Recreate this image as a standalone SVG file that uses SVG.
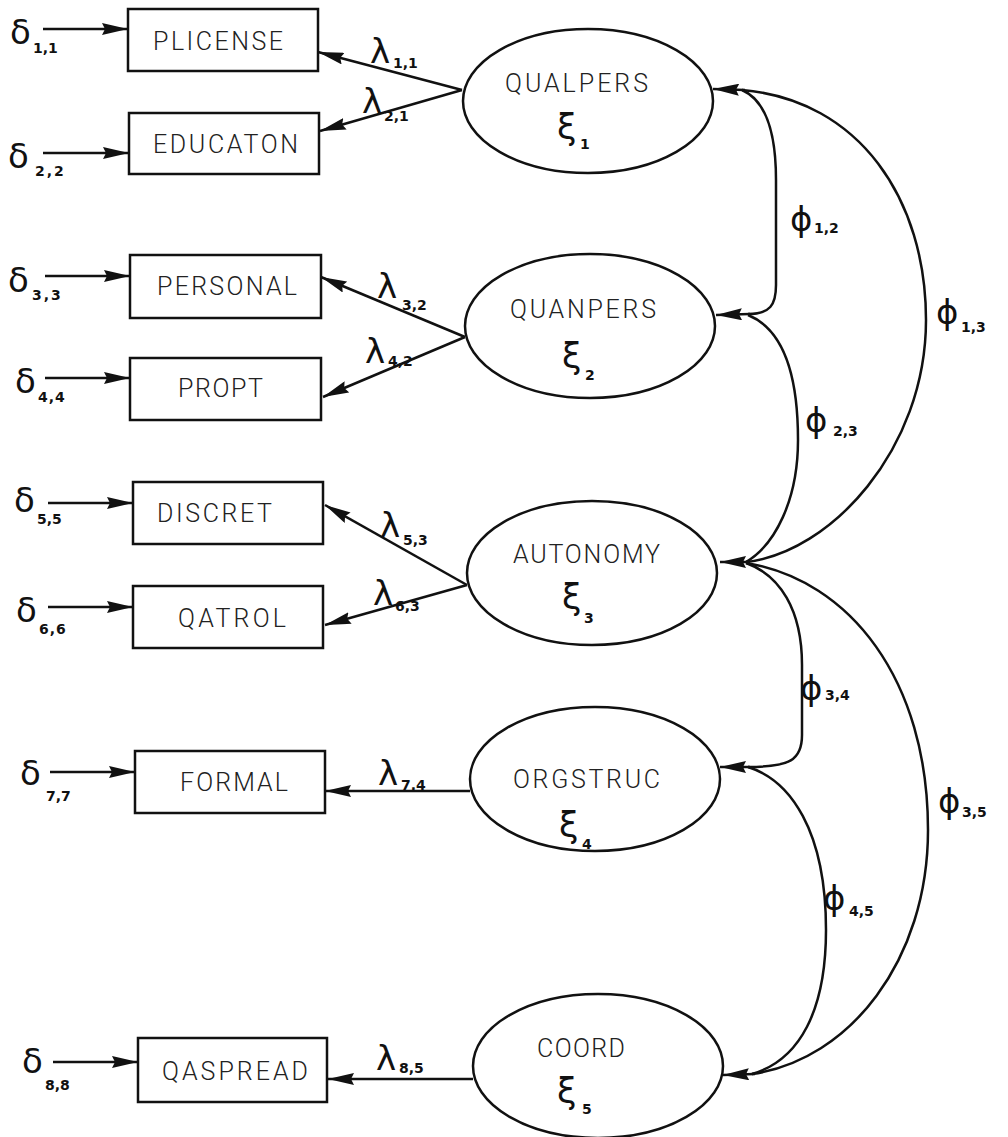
<svg xmlns="http://www.w3.org/2000/svg" width="1008" height="1137" viewBox="0 0 1008 1137">
  <defs>
    <marker id="ah" markerUnits="userSpaceOnUse" viewBox="0 0 26 12" refX="26" refY="6" markerWidth="26" markerHeight="12" orient="auto">
      <path d="M0,0 L26,6 L0,12 L3,6 z" fill="#111"/>
    </marker>
    <style>
      .box{fill:none;stroke:#111;stroke-width:2.5}
      .lat{fill:none;stroke:#111;stroke-width:2.5}
      .edge{fill:none;stroke:#111;stroke-width:2.5}
      .arr{marker-end:url(#ah)}
      .name{font-family:Roboto,"Liberation Sans",sans-serif;font-weight:300;font-size:25px;fill:#222}
      .gk{font-family:"DejaVu Sans",sans-serif;fill:#111}
      .dl{font-size:34px}
      .lm{font-size:34px}
      .ph{font-size:34px}
      .xi{font-size:35px}
      .sub{font-family:"DejaVu Sans",sans-serif;font-size:14px;font-weight:bold;fill:#111}
    </style>
  </defs>
  <rect width="1008" height="1137" fill="#fff"/>

  <!-- observed indicators -->
  <g id="plicense"><rect class="box" x="128" y="9" width="190" height="62"/><text class="name" x="153" y="50" textLength="130" lengthAdjust="spacing">PLICENSE</text></g>
  <g id="educaton"><rect class="box" x="129" y="113" width="190" height="61"/><text class="name" x="153" y="153" textLength="145" lengthAdjust="spacing">EDUCATON</text></g>
  <g id="personal"><rect class="box" x="130" y="255" width="191" height="63"/><text class="name" x="157" y="295" textLength="140" lengthAdjust="spacing">PERSONAL</text></g>
  <g id="propt"><rect class="box" x="130" y="358" width="191" height="62"/><text class="name" x="178" y="397" textLength="85" lengthAdjust="spacing">PROPT</text></g>
  <g id="discret"><rect class="box" x="133" y="482" width="190" height="62"/><text class="name" x="157" y="522" textLength="115" lengthAdjust="spacing">DISCRET</text></g>
  <g id="qatrol"><rect class="box" x="133" y="586" width="190" height="62"/><text class="name" x="178" y="627" textLength="108" lengthAdjust="spacing">QATROL</text></g>
  <g id="formal"><rect class="box" x="135" y="751" width="190" height="62"/><text class="name" x="180" y="791" textLength="108" lengthAdjust="spacing">FORMAL</text></g>
  <g id="qaspread"><rect class="box" x="138" y="1038" width="189" height="64"/><text class="name" x="162" y="1080" textLength="146" lengthAdjust="spacing">QASPREAD</text></g>

  <!-- latent constructs -->
  <g id="qualpers"><ellipse class="lat" cx="588" cy="101" rx="125" ry="72"/><text class="name" x="505" y="92" textLength="143" lengthAdjust="spacing">QUALPERS</text><text class="gk xi" x="557" y="139">ξ</text><text class="sub" x="580" y="149">1</text></g>
  <g id="quanpers"><ellipse class="lat" cx="590" cy="326" rx="125" ry="72"/><text class="name" x="510" y="318" textLength="146" lengthAdjust="spacing">QUANPERS</text><text class="gk xi" x="562" y="368">ξ</text><text class="sub" x="585" y="380">2</text></g>
  <g id="autonomy"><ellipse class="lat" cx="592" cy="573" rx="125" ry="72"/><text class="name" x="513" y="563" textLength="147" lengthAdjust="spacing">AUTONOMY</text><text class="gk xi" x="562" y="609">ξ</text><text class="sub" x="584" y="623">3</text></g>
  <g id="orgstruc"><ellipse class="lat" cx="595" cy="779" rx="125" ry="72"/><text class="name" x="513" y="788" textLength="147" lengthAdjust="spacing">ORGSTRUC</text><text class="gk xi" x="559" y="837">ξ</text><text class="sub" x="582" y="849">4</text></g>
  <g id="coord"><ellipse class="lat" cx="598" cy="1066" rx="125" ry="72"/><text class="name" x="537" y="1057" textLength="88" lengthAdjust="spacing">COORD</text><text class="gk xi" x="557" y="1103">ξ</text><text class="sub" x="582" y="1114">5</text></g>

  <!-- measurement error terms -->
  <g id="d11"><text class="gk dl" x="10" y="44">δ</text><text class="sub" x="33" y="53">1,1</text></g>
  <g id="d22"><text class="gk dl" x="8" y="168">δ</text><text class="sub" x="35" y="176" letter-spacing="2">2,2</text></g>
  <g id="d33"><text class="gk dl" x="8" y="292">δ</text><text class="sub" x="32" y="300" letter-spacing="2">3,3</text></g>
  <g id="d44"><text class="gk dl" x="15" y="393">δ</text><text class="sub" x="38" y="402" letter-spacing="1">4,4</text></g>
  <g id="d55"><text class="gk dl" x="14" y="512">δ</text><text class="sub" x="37" y="524">5,5</text></g>
  <g id="d66"><text class="gk dl" x="16" y="622">δ</text><text class="sub" x="39" y="634" letter-spacing="1">6,6</text></g>
  <g id="d77"><text class="gk dl" x="20" y="785">δ</text><text class="sub" x="46" y="801">7,7</text></g>
  <g id="d88"><text class="gk dl" x="22" y="1073">δ</text><text class="sub" x="45" y="1090">8,8</text></g>

  <!-- error arrows, loadings and covariances -->
  <g id="connectors">
    <line class="edge arr" x1="43" y1="29" x2="128" y2="29"/>
    <line class="edge arr" x1="43" y1="153" x2="129" y2="153"/>
    <line class="edge arr" x1="45" y1="276" x2="130" y2="276"/>
    <line class="edge arr" x1="45" y1="378" x2="130" y2="378"/>
    <line class="edge arr" x1="48" y1="503" x2="133" y2="503"/>
    <line class="edge arr" x1="48" y1="607" x2="133" y2="607"/>
    <line class="edge arr" x1="50" y1="772" x2="135" y2="772"/>
    <line class="edge arr" x1="53" y1="1062" x2="138" y2="1062"/>

    <line class="edge arr" x1="462" y1="90" x2="318" y2="52"/>
    <line class="edge arr" x1="462" y1="90" x2="320" y2="131"/>
    <line class="edge arr" x1="465" y1="337" x2="321" y2="277"/>
    <line class="edge arr" x1="465" y1="337" x2="323" y2="397"/>
    <line class="edge arr" x1="467" y1="585" x2="325" y2="505"/>
    <line class="edge arr" x1="467" y1="585" x2="325" y2="625"/>
    <line class="edge arr" x1="470" y1="791" x2="325" y2="791"/>
    <line class="edge arr" x1="473" y1="1079" x2="328" y2="1079"/>

    <path class="edge" d="M742,90 C765,100 776,130 776,180 L776,285 C776,305 770,314 748,314"/>
    <path class="edge" d="M742,90 C860,100 926,200 926,320 C926,450 830,553 746,562"/>
    <path class="edge" d="M748,315 C785,330 798,380 798,440 C798,500 775,545 746,562"/>
    <path class="edge" d="M746,563 C780,575 802,610 802,665 L802,735 C802,760 790,767 748,767"/>
    <path class="edge" d="M746,563 C850,580 928,680 928,830 C928,960 850,1060 752,1074"/>
    <path class="edge" d="M748,767 C790,780 826,830 826,930 C826,1010 800,1060 752,1074"/>

    <line class="edge arr" x1="745" y1="90" x2="713" y2="89"/>
    <line class="edge arr" x1="750" y1="314" x2="716" y2="315"/>
    <line class="edge arr" x1="750" y1="562" x2="720" y2="562"/>
    <line class="edge arr" x1="750" y1="767" x2="720" y2="767"/>
    <line class="edge arr" x1="755" y1="1074" x2="723" y2="1075"/>
  </g>

  <!-- loading labels -->
  <g id="lambda-labels">
    <text class="gk lm" x="370" y="63">λ</text><text class="sub" x="393" y="68">1,1</text>
    <text class="gk lm" x="362" y="113">λ</text><text class="sub" x="384" y="121">2,1</text>
    <text class="gk lm" x="377" y="298">λ</text><text class="sub" x="402" y="310">3,2</text>
    <text class="gk lm" x="365" y="363">λ</text><text class="sub" x="388" y="366">4,2</text>
    <text class="gk lm" x="380" y="537">λ</text><text class="sub" x="403" y="545">5,3</text>
    <text class="gk lm" x="373" y="605">λ</text><text class="sub" x="395" y="611">6,3</text>
    <text class="gk lm" x="378" y="785">λ</text><text class="sub" x="401" y="790">7,4</text>
    <text class="gk lm" x="376" y="1070">λ</text><text class="sub" x="399" y="1073">8,5</text>
  </g>

  <!-- covariance labels -->
  <g id="phi-labels">
    <text class="gk ph" x="790" y="231">ϕ</text><text class="sub" x="814" y="233">1,2</text>
    <text class="gk ph" x="936" y="324">ϕ</text><text class="sub" x="961" y="332">1,3</text>
    <text class="gk ph" x="805" y="432">ϕ</text><text class="sub" x="833" y="436">2,3</text>
    <text class="gk ph" x="800" y="700">ϕ</text><text class="sub" x="825" y="700">3,4</text>
    <text class="gk ph" x="938" y="813">ϕ</text><text class="sub" x="962" y="817">3,5</text>
    <text class="gk ph" x="823" y="910">ϕ</text><text class="sub" x="849" y="916">4,5</text>
  </g>
</svg>
